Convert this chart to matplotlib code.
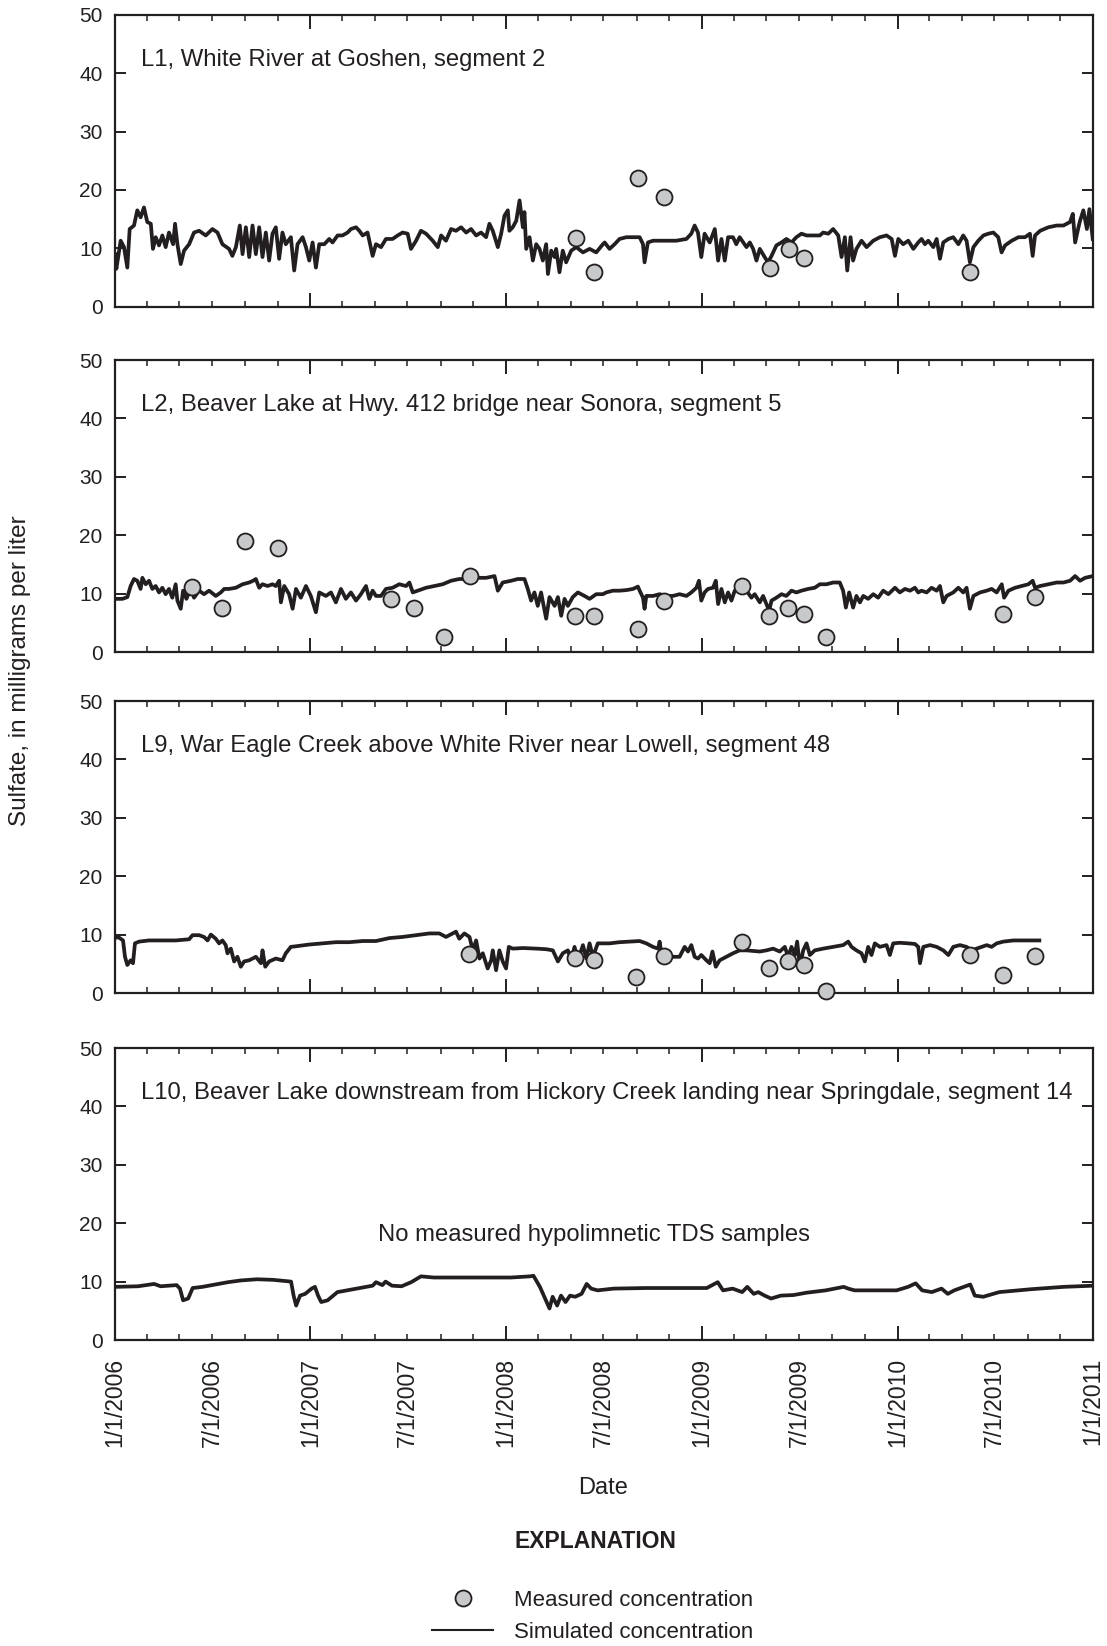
import datetime as dt
import matplotlib
matplotlib.use("Agg")
import matplotlib.pyplot as plt
import matplotlib.dates as mdates
from matplotlib.lines import Line2D

NARROW = ['Liberation Sans Narrow', 'Liberation Sans', 'DejaVu Sans']
INK = '#231f20'
DOT = '#c8c9cb'

titles = [
    "L1, White River at Goshen, segment 2",
    "L2, Beaver Lake at Hwy. 412 bridge near Sonora, segment 5",
    "L9, War Eagle Creek above White River near Lowell, segment 48",
    "L10, Beaver Lake downstream from Hickory Creek landing near Springdale, segment 14",
]

x_tick_labels = ['1/1/2006', '7/1/2006', '1/1/2007', '7/1/2007', '1/1/2008', '7/1/2008',
                 '1/1/2009', '7/1/2009', '1/1/2010', '7/1/2010', '1/1/2011']
y_ticks = [0, 10, 20, 30, 40, 50]

# simulated concentration, (years since 1/1/2006, mg/L)
l1_sim = [
    (0.000, 9.0), (0.007, 6.5), (0.029, 11.3), (0.046, 10.2), (0.063, 6.7), (0.075, 13.3),
    (0.097, 13.9), (0.114, 16.5), (0.131, 15.3), (0.148, 17.0), (0.165, 14.5), (0.183, 14.2),
    (0.194, 9.9), (0.208, 11.9), (0.225, 10.5), (0.242, 12.2), (0.259, 10.2), (0.276, 12.7),
    (0.297, 10.7), (0.307, 14.2), (0.319, 10.7), (0.336, 7.3), (0.353, 9.6), (0.379, 10.7),
    (0.404, 12.7), (0.430, 13.0), (0.464, 12.2), (0.498, 13.3), (0.524, 12.7), (0.549, 10.7),
    (0.583, 9.9), (0.600, 8.7), (0.618, 10.2), (0.638, 13.9), (0.652, 9.0), (0.669, 13.6),
    (0.686, 8.5), (0.703, 13.9), (0.720, 9.0), (0.737, 13.6), (0.754, 8.5), (0.771, 12.7),
    (0.788, 7.9), (0.805, 12.5), (0.822, 13.6), (0.839, 8.2), (0.856, 12.7), (0.873, 10.7),
    (0.899, 11.9), (0.916, 6.2), (0.933, 10.7), (0.959, 11.9), (0.976, 10.2), (0.993, 7.9),
    (1.010, 11.0), (1.027, 6.7), (1.044, 10.7), (1.070, 10.7), (1.095, 11.6), (1.112, 11.0),
    (1.138, 12.2), (1.163, 12.2), (1.189, 12.7), (1.206, 13.3), (1.232, 13.6), (1.249, 13.0),
    (1.266, 12.2), (1.291, 12.7), (1.317, 8.7), (1.334, 10.7), (1.360, 10.2), (1.385, 11.6),
    (1.419, 11.6), (1.445, 12.2), (1.470, 12.7), (1.496, 12.5), (1.513, 9.9), (1.539, 11.3),
    (1.564, 13.0), (1.590, 12.5), (1.624, 11.3), (1.650, 10.2), (1.667, 12.2), (1.692, 11.3),
    (1.718, 13.3), (1.743, 13.0), (1.769, 13.6), (1.795, 12.7), (1.820, 13.3), (1.846, 12.2),
    (1.871, 12.7), (1.897, 11.9), (1.914, 14.2), (1.931, 13.0), (1.957, 10.2), (1.974, 12.5),
    (1.991, 15.6), (2.008, 16.5), (2.016, 13.0), (2.033, 13.6), (2.051, 14.7), (2.068, 18.2),
    (2.085, 13.6), (2.093, 16.2), (2.102, 9.9), (2.119, 11.9), (2.136, 7.9), (2.153, 10.7),
    (2.170, 9.9), (2.187, 7.9), (2.204, 10.7), (2.213, 5.6), (2.230, 9.6), (2.247, 8.5),
    (2.255, 9.9), (2.272, 5.9), (2.289, 9.6), (2.306, 7.6), (2.332, 9.6), (2.358, 10.2),
    (2.392, 9.3), (2.426, 9.9), (2.460, 9.3), (2.494, 10.7), (2.503, 11.0), (2.528, 9.9),
    (2.554, 10.7), (2.579, 11.6), (2.614, 11.9), (2.648, 11.9), (2.682, 11.9), (2.699, 10.7),
    (2.707, 7.6), (2.724, 11.0), (2.750, 11.3), (2.818, 11.3), (2.869, 11.3), (2.921, 11.6),
    (2.946, 12.5), (2.963, 13.9), (2.980, 12.7), (2.997, 8.5), (3.014, 12.5), (3.040, 11.0),
    (3.066, 13.3), (3.083, 7.9), (3.100, 11.6), (3.117, 7.9), (3.134, 11.9), (3.159, 11.9),
    (3.176, 10.7), (3.193, 11.9), (3.228, 10.2), (3.245, 11.0), (3.262, 9.9), (3.279, 7.9),
    (3.296, 9.9), (3.321, 8.5), (3.338, 7.6), (3.356, 8.7), (3.381, 10.5), (3.407, 11.0),
    (3.432, 11.6), (3.458, 11.0), (3.483, 11.9), (3.509, 12.5), (3.535, 12.2), (3.569, 12.2),
    (3.603, 12.2), (3.620, 12.7), (3.646, 12.5), (3.671, 13.3), (3.697, 12.2), (3.714, 8.5),
    (3.731, 11.9), (3.743, 6.2), (3.760, 11.9), (3.773, 7.9), (3.790, 9.9), (3.816, 11.3),
    (3.842, 10.2), (3.876, 11.3), (3.910, 11.9), (3.944, 12.2), (3.970, 11.6), (3.987, 8.7),
    (4.004, 11.6), (4.029, 10.7), (4.055, 11.3), (4.081, 9.9), (4.106, 11.0), (4.123, 11.6),
    (4.140, 10.7), (4.157, 11.3), (4.183, 10.2), (4.200, 11.6), (4.217, 8.2), (4.234, 11.0),
    (4.260, 11.6), (4.285, 11.9), (4.311, 10.7), (4.336, 12.2), (4.353, 11.3), (4.370, 7.6),
    (4.388, 10.2), (4.413, 11.3), (4.439, 12.2), (4.464, 12.5), (4.490, 12.7), (4.515, 11.9),
    (4.532, 9.3), (4.550, 10.5), (4.584, 11.3), (4.618, 11.9), (4.652, 11.9), (4.677, 12.5),
    (4.691, 8.7), (4.703, 12.2), (4.729, 13.0), (4.771, 13.6), (4.814, 13.9), (4.848, 13.9),
    (4.882, 14.5), (4.896, 15.9), (4.908, 11.0), (4.925, 13.6), (4.933, 14.7), (4.950, 16.5),
    (4.968, 13.3), (4.981, 16.7), (4.998, 11.6),
]

l2_sim = [
    (0.000, 9.1), (0.038, 9.1), (0.063, 9.4), (0.080, 11.3), (0.097, 12.5), (0.114, 12.2),
    (0.131, 10.8), (0.140, 12.7), (0.157, 11.6), (0.174, 12.2), (0.191, 10.8), (0.208, 11.3),
    (0.225, 10.2), (0.242, 11.0), (0.259, 9.9), (0.276, 10.8), (0.293, 9.3), (0.310, 11.6),
    (0.319, 8.8), (0.336, 7.4), (0.348, 10.5), (0.365, 9.1), (0.387, 10.8), (0.404, 9.3),
    (0.430, 10.5), (0.455, 9.9), (0.481, 10.5), (0.515, 9.6), (0.541, 10.2), (0.558, 10.8),
    (0.583, 10.8), (0.618, 11.0), (0.652, 11.6), (0.686, 11.9), (0.706, 12.2), (0.720, 12.5),
    (0.737, 11.0), (0.754, 11.6), (0.780, 11.3), (0.805, 11.6), (0.822, 11.3), (0.839, 12.2),
    (0.848, 8.5), (0.865, 11.3), (0.890, 9.9), (0.908, 7.4), (0.925, 10.8), (0.950, 9.3),
    (0.976, 11.3), (1.001, 9.6), (1.027, 6.8), (1.044, 10.2), (1.078, 9.6), (1.104, 10.2),
    (1.129, 8.5), (1.155, 10.8), (1.180, 9.1), (1.206, 10.2), (1.232, 8.8), (1.257, 9.9),
    (1.283, 11.3), (1.300, 9.1), (1.317, 10.5), (1.334, 9.6), (1.360, 9.6), (1.385, 10.8),
    (1.419, 11.0), (1.453, 11.6), (1.488, 11.3), (1.505, 11.9), (1.522, 10.2), (1.547, 10.5),
    (1.590, 11.0), (1.633, 11.3), (1.675, 11.6), (1.718, 12.2), (1.760, 12.5), (1.803, 12.5),
    (1.846, 12.7), (1.897, 12.7), (1.940, 13.0), (1.957, 10.5), (1.982, 11.9), (2.025, 12.2),
    (2.059, 12.5), (2.093, 12.5), (2.110, 10.8), (2.127, 8.8), (2.144, 10.2), (2.161, 7.9),
    (2.178, 10.2), (2.204, 5.7), (2.221, 9.4), (2.247, 7.9), (2.264, 9.4), (2.281, 6.2),
    (2.298, 9.1), (2.315, 7.9), (2.340, 9.4), (2.366, 10.2), (2.400, 9.6), (2.426, 9.1),
    (2.460, 9.9), (2.494, 9.9), (2.511, 10.2), (2.545, 10.5), (2.579, 10.5), (2.614, 10.6),
    (2.648, 10.8), (2.673, 11.2), (2.682, 10.5), (2.699, 9.3), (2.707, 7.4), (2.716, 9.6),
    (2.750, 9.6), (2.784, 9.9), (2.818, 9.6), (2.852, 9.6), (2.886, 9.9), (2.921, 9.6),
    (2.946, 10.2), (2.972, 11.0), (2.985, 12.2), (2.997, 8.8), (3.014, 10.2), (3.031, 10.8),
    (3.057, 11.0), (3.071, 12.2), (3.083, 8.2), (3.100, 10.8), (3.117, 8.5), (3.134, 10.2),
    (3.151, 8.8), (3.168, 10.5), (3.193, 11.0), (3.211, 10.2), (3.228, 10.5), (3.253, 9.3),
    (3.270, 9.9), (3.296, 8.5), (3.313, 9.6), (3.330, 8.2), (3.344, 7.1), (3.356, 8.8),
    (3.381, 9.3), (3.407, 9.9), (3.432, 9.6), (3.458, 10.5), (3.483, 10.2), (3.509, 10.5),
    (3.543, 10.8), (3.577, 11.0), (3.603, 11.6), (3.637, 11.6), (3.671, 11.9), (3.705, 11.9),
    (3.722, 10.5), (3.736, 7.6), (3.753, 10.2), (3.773, 7.6), (3.790, 9.6), (3.808, 8.5),
    (3.825, 9.6), (3.850, 9.1), (3.876, 9.9), (3.901, 9.3), (3.927, 10.5), (3.953, 9.9),
    (3.987, 11.0), (4.012, 10.2), (4.038, 10.8), (4.064, 10.5), (4.089, 11.0), (4.106, 10.2),
    (4.123, 10.5), (4.149, 10.2), (4.174, 11.0), (4.200, 10.5), (4.217, 11.3), (4.234, 8.5),
    (4.251, 9.6), (4.285, 10.2), (4.311, 11.0), (4.336, 10.2), (4.353, 11.0), (4.370, 7.4),
    (4.388, 9.6), (4.422, 10.2), (4.456, 10.5), (4.481, 10.8), (4.507, 10.2), (4.533, 11.6),
    (4.545, 9.3), (4.567, 10.5), (4.601, 11.0), (4.635, 11.3), (4.669, 11.6), (4.691, 12.2),
    (4.703, 11.0), (4.729, 11.3), (4.771, 11.6), (4.814, 11.9), (4.848, 11.9), (4.882, 12.2),
    (4.908, 13.0), (4.933, 12.2), (4.959, 12.7), (4.998, 13.0),
]

l9_sim = [
    (0.000, 9.5), (0.020, 9.5), (0.041, 9.0), (0.051, 6.2), (0.063, 4.8), (0.080, 5.6),
    (0.092, 5.1), (0.102, 8.5), (0.123, 8.8), (0.174, 9.0), (0.242, 9.0), (0.310, 9.0),
    (0.379, 9.2), (0.396, 9.9), (0.430, 9.9), (0.455, 9.6), (0.473, 9.0), (0.490, 10.0),
    (0.515, 9.3), (0.532, 8.5), (0.549, 9.0), (0.566, 8.2), (0.575, 6.8), (0.592, 7.6),
    (0.609, 5.4), (0.626, 6.2), (0.643, 4.5), (0.660, 5.4), (0.686, 5.6), (0.720, 6.2),
    (0.746, 5.1), (0.754, 7.3), (0.768, 4.5), (0.788, 5.4), (0.822, 5.9), (0.856, 5.6),
    (0.873, 6.8), (0.899, 7.9), (0.925, 8.0), (0.993, 8.3), (1.061, 8.5), (1.129, 8.7),
    (1.198, 8.7), (1.266, 8.9), (1.334, 8.9), (1.402, 9.4), (1.470, 9.6), (1.539, 9.9),
    (1.607, 10.2), (1.658, 10.2), (1.692, 9.6), (1.726, 10.2), (1.743, 10.5), (1.760, 9.3),
    (1.786, 10.2), (1.812, 9.6), (1.829, 7.3), (1.846, 9.0), (1.863, 5.9), (1.880, 6.8),
    (1.905, 4.2), (1.923, 5.6), (1.931, 7.3), (1.948, 3.9), (1.965, 7.3), (1.982, 5.4),
    (1.999, 4.2), (2.013, 7.9), (2.033, 7.6), (2.085, 7.7), (2.153, 7.6), (2.204, 7.5),
    (2.238, 7.3), (2.264, 5.4), (2.289, 6.8), (2.315, 7.3), (2.332, 5.6), (2.349, 7.9),
    (2.366, 5.6), (2.392, 8.2), (2.409, 5.9), (2.426, 8.5), (2.443, 6.2), (2.468, 8.5),
    (2.528, 8.5), (2.579, 8.7), (2.631, 8.8), (2.682, 8.9), (2.716, 8.5), (2.750, 7.9),
    (2.776, 7.6), (2.784, 8.8), (2.793, 6.8), (2.801, 5.9), (2.810, 5.1), (2.818, 6.8),
    (2.835, 5.9), (2.852, 6.2), (2.886, 6.2), (2.912, 7.9), (2.929, 7.1), (2.946, 8.2),
    (2.963, 6.2), (2.980, 5.9), (2.997, 6.5), (3.023, 5.6), (3.040, 5.1), (3.054, 7.1),
    (3.071, 4.5), (3.091, 5.6), (3.125, 6.2), (3.159, 6.8), (3.193, 7.3), (3.228, 7.3),
    (3.262, 7.2), (3.296, 7.1), (3.330, 7.3), (3.364, 7.6), (3.398, 7.1), (3.424, 7.9),
    (3.441, 6.2), (3.458, 7.9), (3.475, 6.5), (3.487, 8.8), (3.501, 4.5), (3.518, 7.3),
    (3.535, 8.5), (3.552, 6.5), (3.577, 7.3), (3.620, 7.6), (3.671, 7.9), (3.722, 8.2),
    (3.748, 8.8), (3.765, 7.9), (3.790, 7.3), (3.816, 6.8), (3.833, 5.4), (3.850, 7.9),
    (3.867, 6.5), (3.884, 8.5), (3.910, 7.9), (3.944, 8.2), (3.961, 6.5), (3.978, 8.5),
    (4.012, 8.6), (4.055, 8.5), (4.089, 8.4), (4.106, 7.9), (4.115, 5.1), (4.132, 7.9),
    (4.166, 8.2), (4.200, 7.9), (4.234, 7.3), (4.260, 6.5), (4.285, 7.9), (4.319, 8.2),
    (4.353, 7.9), (4.379, 7.3), (4.405, 7.6), (4.430, 7.9), (4.456, 8.2), (4.481, 7.9),
    (4.507, 8.5), (4.541, 8.8), (4.592, 9.0), (4.644, 9.0), (4.695, 9.0), (4.725, 9.0),
]

l10_sim = [
    (0.000, 9.1), (0.118, 9.2), (0.200, 9.6), (0.233, 9.2), (0.315, 9.4), (0.332, 8.8),
    (0.348, 6.8), (0.374, 7.1), (0.397, 8.9), (0.447, 9.1), (0.512, 9.5), (0.578, 9.9),
    (0.644, 10.2), (0.726, 10.4), (0.808, 10.3), (0.900, 10.0), (0.913, 7.6), (0.926, 5.9),
    (0.946, 7.6), (0.972, 7.9), (1.005, 8.8), (1.022, 9.1), (1.038, 7.6), (1.054, 6.5),
    (1.087, 6.8), (1.137, 8.2), (1.186, 8.5), (1.235, 8.8), (1.284, 9.1), (1.317, 9.3),
    (1.334, 9.9), (1.367, 9.4), (1.383, 10.0), (1.416, 9.3), (1.465, 9.2), (1.514, 9.9),
    (1.564, 10.9), (1.629, 10.7), (1.761, 10.7), (1.892, 10.7), (2.024, 10.7), (2.122, 10.9),
    (2.139, 11.0), (2.172, 9.1), (2.188, 7.9), (2.221, 5.4), (2.237, 7.4), (2.260, 5.9),
    (2.280, 7.6), (2.303, 6.5), (2.326, 7.6), (2.352, 7.4), (2.385, 7.9), (2.411, 9.6),
    (2.434, 8.8), (2.467, 8.5), (2.549, 8.8), (2.713, 8.9), (2.878, 8.9), (3.025, 8.9),
    (3.081, 9.9), (3.108, 8.5), (3.157, 8.8), (3.206, 8.2), (3.232, 9.1), (3.265, 7.9),
    (3.288, 8.2), (3.321, 7.6), (3.354, 7.1), (3.403, 7.6), (3.469, 7.7), (3.535, 8.1),
    (3.633, 8.5), (3.725, 9.1), (3.748, 8.8), (3.781, 8.5), (3.863, 8.5), (3.995, 8.5),
    (4.054, 9.1), (4.093, 9.7), (4.126, 8.5), (4.175, 8.2), (4.225, 8.8), (4.257, 7.9),
    (4.290, 8.5), (4.339, 9.1), (4.372, 9.5), (4.395, 7.6), (4.438, 7.4), (4.520, 8.2),
    (4.684, 8.7), (4.849, 9.1), (5.000, 9.3),
]

# measured concentration, (years since 1/1/2006, mg/L)
l1_meas = [(2.355, 11.7), (2.447, 5.9), (2.671, 22.1), (2.806, 18.8), (3.348, 6.6),
           (3.446, 9.9), (3.522, 8.4), (4.373, 5.9)]
l2_meas = [(0.394, 11.2), (0.545, 7.6), (0.664, 19.0), (0.831, 17.8), (1.413, 9.0),
           (1.528, 7.5), (1.682, 2.5), (1.813, 13.0), (2.352, 6.1), (2.447, 6.2),
           (2.674, 4.0), (2.806, 8.7), (3.206, 11.3), (3.341, 6.1), (3.440, 7.6),
           (3.522, 6.5), (3.633, 2.5), (4.537, 6.5), (4.704, 9.5)]
l9_meas = [(1.810, 6.6), (2.352, 6.0), (2.447, 5.6), (2.661, 2.7), (2.806, 6.3),
           (3.206, 8.8), (3.341, 4.3), (3.440, 5.4), (3.522, 4.8), (3.633, 0.4),
           (4.373, 6.5), (4.537, 3.1), (4.704, 6.4)]
l10_meas = []

sim_series = [l1_sim, l2_sim, l9_sim, l10_sim]
meas_series = [l1_meas, l2_meas, l9_meas, l10_meas]

W, H = 1107, 1646
START = mdates.date2num(dt.datetime(2006, 1, 1))
END = mdates.date2num(dt.datetime(2011, 1, 1))


def to_x(years):
    return [START + t * 365.25 for t in years]


tick_dates = [mdates.date2num(dt.datetime(2006 + i // 2, 1 + 6 * (i % 2), 1)) for i in range(11)]
minor_dates = [mdates.date2num(dt.datetime(y, m, 1)) for y in range(2006, 2011) for m in (3, 5, 9, 11)]

fig = plt.figure(figsize=(W / 100, H / 100), dpi=100)

panel_tops = [14.7, 360, 701, 1048]
left, right = 115, 1093
ph = 292

axes = []
for i in range(4):
    top = panel_tops[i]
    ax = fig.add_axes([left / W, 1 - (top + ph) / H, (right - left) / W, ph / H])
    axes.append(ax)

    sim = sim_series[i]
    ax.plot(to_x([p[0] for p in sim]), [p[1] for p in sim], color=INK, lw=2.7,
            solid_joinstyle='round', zorder=2)
    meas = meas_series[i]
    if meas:
        ax.plot(to_x([p[0] for p in meas]), [p[1] for p in meas], 'o', ms=11.5,
                mfc=DOT, mec=INK, mew=1.3, zorder=3, clip_on=False)

    ax.set_xlim(START, END)
    ax.set_ylim(0, 50)
    ax.set_yticks(y_ticks)
    ax.set_yticklabels([str(v) for v in y_ticks], family=NARROW, fontsize=15, color=INK)
    ax.set_xticks(tick_dates)
    ax.set_xticks(minor_dates, minor=True)
    if i == 3:
        ax.set_xticklabels(x_tick_labels, rotation=90, family=NARROW, fontsize=16.5,
                           color=INK)
    else:
        ax.set_xticklabels([])

    ax.tick_params(axis='y', which='major', direction='in', length=8, width=1.4,
                   left=True, right=True, pad=9, colors=INK)
    ax.tick_params(axis='x', which='both', direction='in', length=4.5, width=1.1,
                   top=True, bottom=True, pad=13, colors=INK)
    for sp in ax.spines.values():
        sp.set_linewidth(1.6)
        sp.set_color(INK)

    # long ticks on the first of each year
    for tick, loc in zip(ax.xaxis.get_major_ticks(), tick_dates):
        if mdates.num2date(loc).month == 1:
            tick.tick1line.set_markersize(10)
            tick.tick2line.set_markersize(10)
            tick.tick1line.set_markeredgewidth(1.4)
            tick.tick2line.set_markeredgewidth(1.4)

    ax.text(0.027, 0.845, titles[i], transform=ax.transAxes, va='center', ha='left',
            family=NARROW, fontsize=17.2, color=INK)

axes[3].text(0.49, 0.36, "No measured hypolimnetic TDS samples", transform=axes[3].transAxes,
             ha='center', va='center', family=NARROW, fontsize=17.2, color=INK)

fig.text(20 / W, 1 - 671 / H, "Sulfate, in milligrams per liter", rotation=90,
         ha='center', va='center', family=NARROW, fontsize=17.5, color=INK)
fig.text(603 / W, 1 - 1488 / H, "Date", ha='center', va='center', family=NARROW,
         fontsize=17, color=INK)
fig.text(595 / W, 1 - 1541 / H, "EXPLANATION", ha='center', va='center', family=NARROW,
         fontsize=16.5, fontweight='bold', color=INK)

handles = [
    Line2D([], [], ls='none', marker='o', ms=11.5, mfc=DOT, mec=INK, mew=1.3),
    Line2D([], [], color=INK, lw=1.5),
]
leg = fig.legend(handles, ["Measured concentration", "Simulated concentration"],
                 loc='center left', bbox_to_anchor=(432 / W, 1 - 1616.5 / H),
                 frameon=False, handlelength=2.75, handletextpad=0.95, labelspacing=0.5,
                 borderpad=0, borderaxespad=0, prop={'family': NARROW, 'size': 16})
for t in leg.get_texts():
    t.set_color(INK)

fig.savefig("out.png", dpi=100)
